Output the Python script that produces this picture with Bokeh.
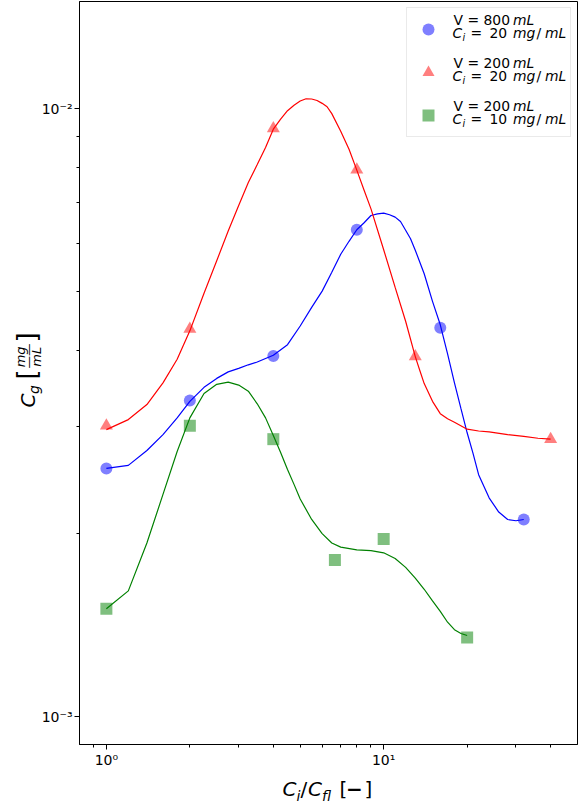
from math import pi
from bokeh.plotting import figure
from bokeh.layouts import row, column
from bokeh.models import (Label, Legend, LegendItem, FixedTicker,
                          CustomJSTickFormatter)
from bokeh.core.properties import value
from bokeh.embed import file_html
from bokeh.resources import INLINE

# ---------------- data ----------------
# measured points
blue_x = [1, 2, 4, 8, 16, 32]
blue_y = [2.56e-3, 3.31e-3, 3.92e-3, 6.32e-3, 4.36e-3, 2.11e-3]
red_x = [1, 2, 4, 8, 13, 40]
red_y = [3.01e-3, 4.34e-3, 9.27e-3, 7.93e-3, 3.91e-3, 2.86e-3]
green_x = [1, 2, 4, 6.67, 10, 20]
green_y = [1.505e-3, 3.01e-3, 2.86e-3, 1.81e-3, 1.96e-3, 1.35e-3]

# smooth fitted curves
blue_curve_x = [1, 1.2, 1.4, 1.6, 1.8, 2, 2.25, 2.5, 2.75, 3, 3.25, 3.5, 4, 4.5, 5, 5.5, 6,
                6.5, 7, 7.5, 8, 8.5, 9, 9.5, 10, 10.5, 11, 11.5, 12, 12.5, 13, 14, 15, 16,
                17, 18, 19, 20, 21, 22, 23, 24, 26, 28, 30, 32]
blue_curve_y = [2.56e-3, 2.59e-3, 2.74e-3, 2.91e-3, 3.10e-3, 3.30e-3, 3.48e-3, 3.60e-3,
                3.69e-3, 3.74e-3, 3.79e-3, 3.83e-3, 3.93e-3, 4.09e-3, 4.39e-3, 4.71e-3,
                5.01e-3, 5.38e-3, 5.76e-3, 6.05e-3, 6.32e-3, 6.49e-3, 6.67e-3, 6.71e-3,
                6.73e-3, 6.69e-3, 6.63e-3, 6.52e-3, 6.31e-3, 6.11e-3, 5.85e-3, 5.35e-3,
                4.82e-3, 4.41e-3, 3.95e-3, 3.54e-3, 3.21e-3, 2.93e-3, 2.71e-3, 2.50e-3,
                2.39e-3, 2.29e-3, 2.17e-3, 2.11e-3, 2.10e-3, 2.11e-3]
red_curve_x = [1, 1.2, 1.4, 1.6, 1.8, 2, 2.25, 2.5, 2.75, 3, 3.25, 3.5, 3.75, 4, 4.25, 4.5,
               4.75, 5, 5.25, 5.5, 5.75, 6, 6.25, 6.5, 7, 7.5, 8, 8.5, 9, 10, 11, 12, 13,
               13.5, 14, 15, 16, 17, 18, 20, 22, 24, 28, 32, 36, 40]
red_curve_y = [2.965e-3, 3.08e-3, 3.26e-3, 3.54e-3, 3.87e-3, 4.31e-3, 4.97e-3, 5.62e-3,
               6.29e-3, 6.93e-3, 7.56e-3, 8.09e-3, 8.63e-3, 9.25e-3, 9.61e-3, 9.92e-3,
               1.013e-2, 1.029e-2, 1.038e-2, 1.037e-2, 1.031e-2, 1.02e-2, 1.007e-2,
               9.81e-3, 9.18e-3, 8.57e-3, 7.92e-3, 7.34e-3, 6.84e-3, 5.86e-3, 5.08e-3,
               4.47e-3, 3.91e-3, 3.71e-3, 3.53e-3, 3.30e-3, 3.15e-3, 3.09e-3, 3.05e-3,
               2.97e-3, 2.95e-3, 2.94e-3, 2.91e-3, 2.89e-3, 2.87e-3, 2.86e-3]
green_curve_x = [1, 1.2, 1.4, 1.6, 1.8, 2, 2.25, 2.5, 2.75, 3, 3.25, 3.5, 3.75, 4, 4.25,
                 4.5, 4.75, 5, 5.5, 6, 6.5, 7, 8, 9, 10, 11, 12, 13, 14, 15, 16, 17, 18,
                 19, 20]
green_curve_y = [1.505e-3, 1.61e-3, 1.93e-3, 2.32e-3, 2.73e-3, 3.10e-3, 3.40e-3, 3.52e-3,
                 3.55e-3, 3.51e-3, 3.43e-3, 3.27e-3, 3.10e-3, 2.90e-3, 2.72e-3, 2.55e-3,
                 2.41e-3, 2.28e-3, 2.11e-3, 2.00e-3, 1.93e-3, 1.90e-3, 1.88e-3, 1.875e-3,
                 1.86e-3, 1.82e-3, 1.76e-3, 1.69e-3, 1.62e-3, 1.55e-3, 1.49e-3, 1.43e-3,
                 1.39e-3, 1.37e-3, 1.36e-3]

x_limits = (0.8, 50)
y_limits = (9e-4, 1.5e-2)
x_major = [1, 10]
x_minor = [0.9, 2, 3, 4, 5, 6, 7, 8, 9, 20, 30, 40]
y_major = [1e-3, 1e-2]
y_minor = [2e-3, 3e-3, 4e-3, 5e-3, 6e-3, 7e-3, 8e-3, 9e-3]

# ---------------- layout geometry ----------------
PAGE_W, PAGE_H = 584, 807
WF = 46            # width of the strip holding the y title
OV = 8             # the main column overlaps the strip by this much
COL_X = WF - OV    # page x where the main column starts
H_MAIN = 776       # height of the main figure
FL, FT, FR, FB = 79, 1, 577, 744  # frame edges on the page
K = 0.42           # Bokeh's text anchor sits this many ems above the baseline

p = figure(width=PAGE_W - COL_X, height=H_MAIN, x_axis_type="log", y_axis_type="log",
           x_range=x_limits, y_range=y_limits,
           output_backend="svg", toolbar_location=None,
           min_border_left=FL - COL_X, min_border_right=PAGE_W - FR,
           min_border_top=FT, min_border_bottom=H_MAIN - FB)
p.grid.visible = False
p.background_fill_color = "white"
p.border_fill_alpha = 0
p.outline_line_color = "black"
p.outline_line_width = 1

exp_formatter = CustomJSTickFormatter(code="""
const e = Math.round(Math.log10(tick));
const sup = {"-": "\\u207b", "0": "\\u2070", "1": "\\u00b9", "2": "\\u00b2",
             "3": "\\u00b3", "4": "\\u2074", "5": "\\u2075", "6": "\\u2076",
             "7": "\\u2077", "8": "\\u2078", "9": "\\u2079"};
return "10" + String(e).split("").map(c => sup[c]).join("");
""")

p.xaxis.ticker = FixedTicker(ticks=x_major, minor_ticks=x_minor)
p.yaxis.ticker = FixedTicker(ticks=y_major, minor_ticks=y_minor)
for ax in p.axis:
    ax.formatter = exp_formatter
    ax.axis_line_color = "black"
    ax.axis_line_width = 1
    ax.major_tick_line_color = "black"
    ax.minor_tick_line_color = "black"
    ax.major_tick_out = 5
    ax.major_tick_in = 0
    ax.minor_tick_out = 3
    ax.minor_tick_in = 0
    ax.major_label_text_font = "DejaVu Sans"
    ax.major_label_text_font_size = "14px"
    ax.major_label_text_color = "black"
    ax.major_label_standoff = 2
    ax.axis_label = None

rb = p.scatter(blue_x, blue_y, marker="circle", size=12, fill_color="blue",
               fill_alpha=0.5, line_color=None)
rr = p.scatter(red_x, red_y, marker="triangle", size=13, fill_color="red",
               fill_alpha=0.5, line_color=None)
rg = p.scatter(green_x, green_y, marker="square", size=12, fill_color="green",
               fill_alpha=0.5, line_color=None)

p.line(blue_curve_x, blue_curve_y, line_color="blue", line_width=1.2)
p.line(red_curve_x, red_curve_y, line_color="red", line_width=1.2)
p.line(green_curve_x, green_curve_y, line_color="green", line_width=1.2)

legend = Legend(items=[LegendItem(label=value(" "), renderers=[rb]),
                       LegendItem(label=value(" "), renderers=[rr]),
                       LegendItem(label=value(" "), renderers=[rg])],
                location="top_right", margin=6, padding=6, spacing=13,
                glyph_width=30, glyph_height=30, label_height=30,
                label_width=116, label_standoff=5,
                label_text_font_size="2px",
                border_line_color="#d6d6d6", border_line_width=1,
                background_fill_alpha=0)
p.add_layout(legend)


def lab(fig, ox, oy_bottom, text, px, py, size, style="normal", rotated=False):
    """Place a text piece whose baseline starts at page position (px, py) in a
    figure whose frame starts at page x = ox and ends at page y = oy_bottom."""
    if rotated:
        ax_, ay_ = px - K * size, py
    else:
        ax_, ay_ = px, py - K * size
    fig.add_layout(Label(x=ax_ - ox, y=oy_bottom - ay_, x_units="screen", y_units="screen",
                         text=text, text_font="DejaVu Sans",
                         text_font_size=f"{size}px", text_font_style=style,
                         text_align="left", text_baseline="middle",
                         text_color="black", angle=pi / 2 if rotated else 0.0,
                         level="overlay"))


# legend texts (inside the main frame)
entries = [("V = 800 ", "20"), ("V = 200 ", "20"), ("V = 200 ", "10")]
for k, (v_txt, c_txt) in enumerate(entries):
    b1 = 25 + 43 * k
    b2 = 38.7 + 43 * k
    lab(p, FL, FB, v_txt, 453, b1, 13.9)
    lab(p, FL, FB, "mL", 512.5, b1, 13.9, "italic")
    lab(p, FL, FB, "C", 452, b2, 13.9, "italic")
    lab(p, FL, FB, "i", 462, b2 + 2.5, 9.7, "italic")
    lab(p, FL, FB, "=", 470, b2, 13.9)
    lab(p, FL, FB, c_txt, 489, b2, 13.9)
    lab(p, FL, FB, "mg", 512.5, b2, 13.9, "italic")
    lab(p, FL, FB, "/", 536, b2, 13.9)
    lab(p, FL, FB, "mL", 544.5, b2, 13.9, "italic")


def blank(w, h):
    f = figure(width=w, height=h, x_range=(0, 1), y_range=(0, 1),
               x_axis_location=None, y_axis_location=None,
               output_backend="svg", toolbar_location=None, min_border=0)
    f.grid.visible = False
    f.outline_line_color = None
    f.background_fill_alpha = 0
    f.border_fill_alpha = 0
    return f


# x axis title strip: C_i / C_fl [−]   (its frame lines up with the main frame)
fx = blank(PAGE_W - COL_X, PAGE_H - H_MAIN)
xb = 797
lab(fx, FL, PAGE_H, "C", 282, xb, 20, "italic")
lab(fx, FL, PAGE_H, "i", 296, xb + 4, 14, "italic")
lab(fx, FL, PAGE_H, "/", 300, xb, 20)
lab(fx, FL, PAGE_H, "C", 307.5, xb, 20, "italic")
lab(fx, FL, PAGE_H, "fl", 321.5, xb + 4, 14, "italic")
lab(fx, FL, PAGE_H, "[", 339, xb, 20)
lab(fx, FL, PAGE_H, "\u2212", 345.5, xb, 20, "bold")
lab(fx, FL, PAGE_H, "]", 364, xb, 20)

# y axis title strip: C_g [mg/mL] (rotated, reads bottom to top)
fy = blank(WF, PAGE_H)
S = 407
lab(fy, 0, PAGE_H, "C", 36, S, 20, "italic", True)
lab(fy, 0, PAGE_H, "g", 39.5, S - 13.5, 14, "italic", True)
lab(fy, 0, PAGE_H, "[", 37.8, S - 28, 26, "normal", True)
lab(fy, 0, PAGE_H, "mg", 25.4, S - 40.2, 13, "italic", True)
lab(fy, 0, PAGE_H, "\u2014\u2014", 33.4, S - 39, 12.5, "normal", True)
lab(fy, 0, PAGE_H, "mL", 41, S - 40.8, 13, "italic", True)
lab(fy, 0, PAGE_H, "]", 37.8, S - 65, 26, "normal", True)

main_col = column(p, fx, spacing=0, margin=(0, 0, 0, -OV))
layout = row(fy, main_col, spacing=0)
open("out.html", "w").write(file_html(layout, INLINE))
